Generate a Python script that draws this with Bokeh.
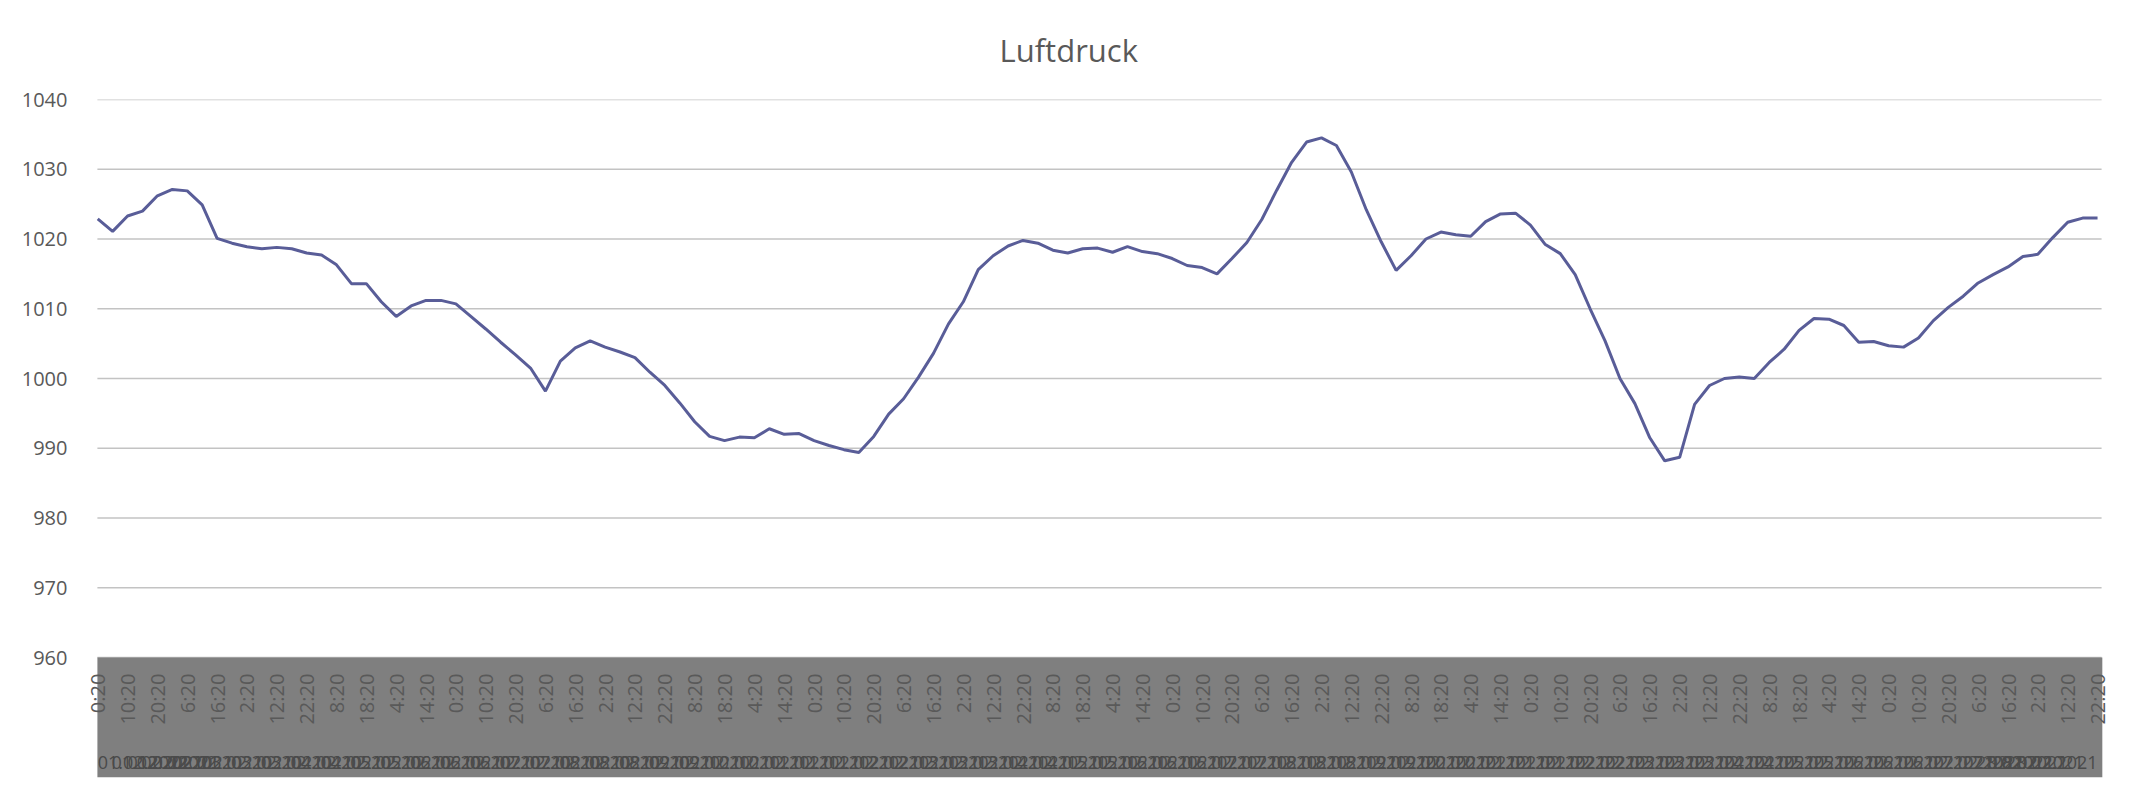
import math
from bokeh.plotting import figure
from bokeh.models import FixedTicker, Range1d
from bokeh.core.properties import value
from bokeh.embed import file_html
from bokeh.resources import INLINE

# Luftdruck (hPa), one reading every 5 hours, starting 01.02. 0:20
pressure = [
    1022.9, 1021.1, 1023.3, 1024.0, 1026.2, 1027.1, 1026.9, 1024.9, 1020.1, 1019.4,
    1018.9, 1018.6, 1018.8, 1018.6, 1018.0, 1017.7, 1016.3, 1013.6, 1013.6, 1011.0,
    1008.9, 1010.4, 1011.2, 1011.2, 1010.7, 1008.9, 1007.1, 1005.2, 1003.4, 1001.5,
    998.2, 1002.5, 1004.4, 1005.4, 1004.5, 1003.8, 1003.0, 1000.9, 999.0, 996.5,
    993.8, 991.7, 991.1, 991.6, 991.5, 992.8, 992.0, 992.1, 991.1, 990.4,
    989.8, 989.4, 991.7, 994.9, 997.1, 1000.2, 1003.6, 1007.8, 1011.0, 1015.6,
    1017.6, 1019.0, 1019.8, 1019.4, 1018.4, 1018.0, 1018.6, 1018.7, 1018.1, 1018.9,
    1018.2, 1017.9, 1017.2, 1016.2, 1015.9, 1015.0, 1017.2, 1019.5, 1022.8, 1027.0,
    1031.0, 1033.9, 1034.5, 1033.4, 1029.6, 1024.2, 1019.6, 1015.5, 1017.6, 1020.0,
    1021.0, 1020.6, 1020.4, 1022.5, 1023.6, 1023.7, 1022.0, 1019.2, 1017.9, 1014.9,
    1010.0, 1005.4, 1000.0, 996.4, 991.5, 988.2, 988.7, 996.3, 999.0, 1000.0,
    1000.2, 1000.0, 1002.3, 1004.2, 1006.9, 1008.6, 1008.5, 1007.6, 1005.2, 1005.3,
    1004.7, 1004.5, 1005.8, 1008.3, 1010.2, 1011.8, 1013.7, 1014.9, 1016.0, 1017.5,
    1017.8, 1020.2, 1022.4, 1023.0, 1023.0,
]

# category labels shown every 10 hours
time_labels = [
    "0:20", "10:20", "20:20", "6:20", "16:20", "2:20", "12:20", "22:20", "8:20", "18:20", "4:20", "14:20",
    "0:20", "10:20", "20:20", "6:20", "16:20", "2:20", "12:20", "22:20", "8:20", "18:20", "4:20", "14:20",
    "0:20", "10:20", "20:20", "6:20", "16:20", "2:20", "12:20", "22:20", "8:20", "18:20", "4:20", "14:20",
    "0:20", "10:20", "20:20", "6:20", "16:20", "2:20", "12:20", "22:20", "8:20", "18:20", "4:20", "14:20",
    "0:20", "10:20", "20:20", "6:20", "16:20", "2:20", "12:20", "22:20", "8:20", "18:20", "4:20", "14:20",
    "0:20", "10:20", "20:20", "6:20", "16:20", "2:20", "12:20", "22:20",
]
date_labels = [
    "01.02.2021", "01.02.2021", "01.02.2021", "02.02.2021", "02.02.2021", "03.02.2021", "03.02.2021",
    "03.02.2021", "04.02.2021", "04.02.2021", "05.02.2021", "05.02.2021", "06.02.2021", "06.02.2021",
    "06.02.2021", "07.02.2021", "07.02.2021", "08.02.2021", "08.02.2021", "08.02.2021", "09.02.2021",
    "09.02.2021", "10.02.2021", "10.02.2021", "11.02.2021", "11.02.2021", "11.02.2021", "12.02.2021",
    "12.02.2021", "13.02.2021", "13.02.2021", "13.02.2021", "14.02.2021", "14.02.2021", "15.02.2021",
    "15.02.2021", "16.02.2021", "16.02.2021", "16.02.2021", "17.02.2021", "17.02.2021", "18.02.2021",
    "18.02.2021", "18.02.2021", "19.02.2021", "19.02.2021", "20.02.2021", "20.02.2021", "21.02.2021",
    "21.02.2021", "21.02.2021", "22.02.2021", "22.02.2021", "23.02.2021", "23.02.2021", "23.02.2021",
    "24.02.2021", "24.02.2021", "25.02.2021", "25.02.2021", "26.02.2021", "26.02.2021", "26.02.2021",
    "27.02.2021", "27.02.2021", "28.02.2021", "28.02.2021", "28.02.2021",
]
y_ticks = [960, 970, 980, 990, 1000, 1010, 1020, 1030, 1040]

FONT = "Open Sans"
TXT = "#595959"

n = len(pressure)
xs = list(range(n))
label_x = [2 * k for k in range(len(time_labels))]

data_end = n - 1 + 0.27      # last sample reaches the right edge of the plot area
y_bottom = 942.8

p = figure(
    output_backend="svg", toolbar_location=None,
    frame_width=2017, frame_height=678,
    min_border_left=89, min_border_right=32, min_border_top=99, min_border_bottom=10,
    x_range=Range1d(-0.55, n - 1 + 0.6), y_range=Range1d(y_bottom, 1040),
    title="Luftdruck",
)
p.outline_line_color = None
p.background_fill_color = "white"
p.border_fill_color = "white"

p.title.align = "left"
p.title.vertical_align = "top"
p.title.offset = 910
p.title.standoff = 54
p.title.text_font = FONT
p.title.text_font_size = "31px"
p.title.text_font_style = "normal"
p.title.text_color = TXT

p.xaxis.visible = False
p.xgrid.visible = False
p.ygrid.visible = False

yax = p.yaxis[0]
yax.ticker = FixedTicker(ticks=y_ticks)
yax.axis_line_color = None
yax.major_tick_line_color = None
yax.minor_tick_line_color = None
yax.major_tick_out = 0
yax.major_label_standoff = 22
yax.major_label_text_font = FONT
yax.major_label_text_font_size = "20px"
yax.major_label_text_color = TXT

# horizontal gridlines across the plot area
p.segment(x0=[-0.02] * len(y_ticks), x1=[data_end] * len(y_ticks), y0=y_ticks, y1=y_ticks,
          line_color="#c3c3c3", line_width=1.4)

# grey category-axis band
p.quad(left=[-0.02], right=[data_end + 0.05], bottom=[y_bottom], top=[960],
       fill_color="#7f7f7f", line_color=None)

# rotated time labels
p.text(x=label_x, y=[957.7] * len(label_x), text=time_labels,
       angle=math.pi / 2, text_align="right", text_baseline="middle",
       text_font=value(FONT), text_font_size="20px", text_color=TXT)

# overlapping date labels (outer category level)
DATE_Y = 944.95
date_kw = dict(text_baseline="middle", text_font=value(FONT), text_font_size="18px",
               text_color="#4a4a4a")
p.text(x=label_x[:2], y=[DATE_Y] * 2, text=date_labels[:2], text_align="left", **date_kw)
p.text(x=label_x[2:-2], y=[DATE_Y] * (len(label_x) - 4), text=date_labels[2:-2],
       text_align="center", **date_kw)
p.text(x=label_x[-2:], y=[DATE_Y] * 2, text=date_labels[-2:], text_align="right", **date_kw)

p.line(xs, pressure, line_color="#595d98", line_width=3)

open("out.html", "w").write(file_html(p, INLINE))
